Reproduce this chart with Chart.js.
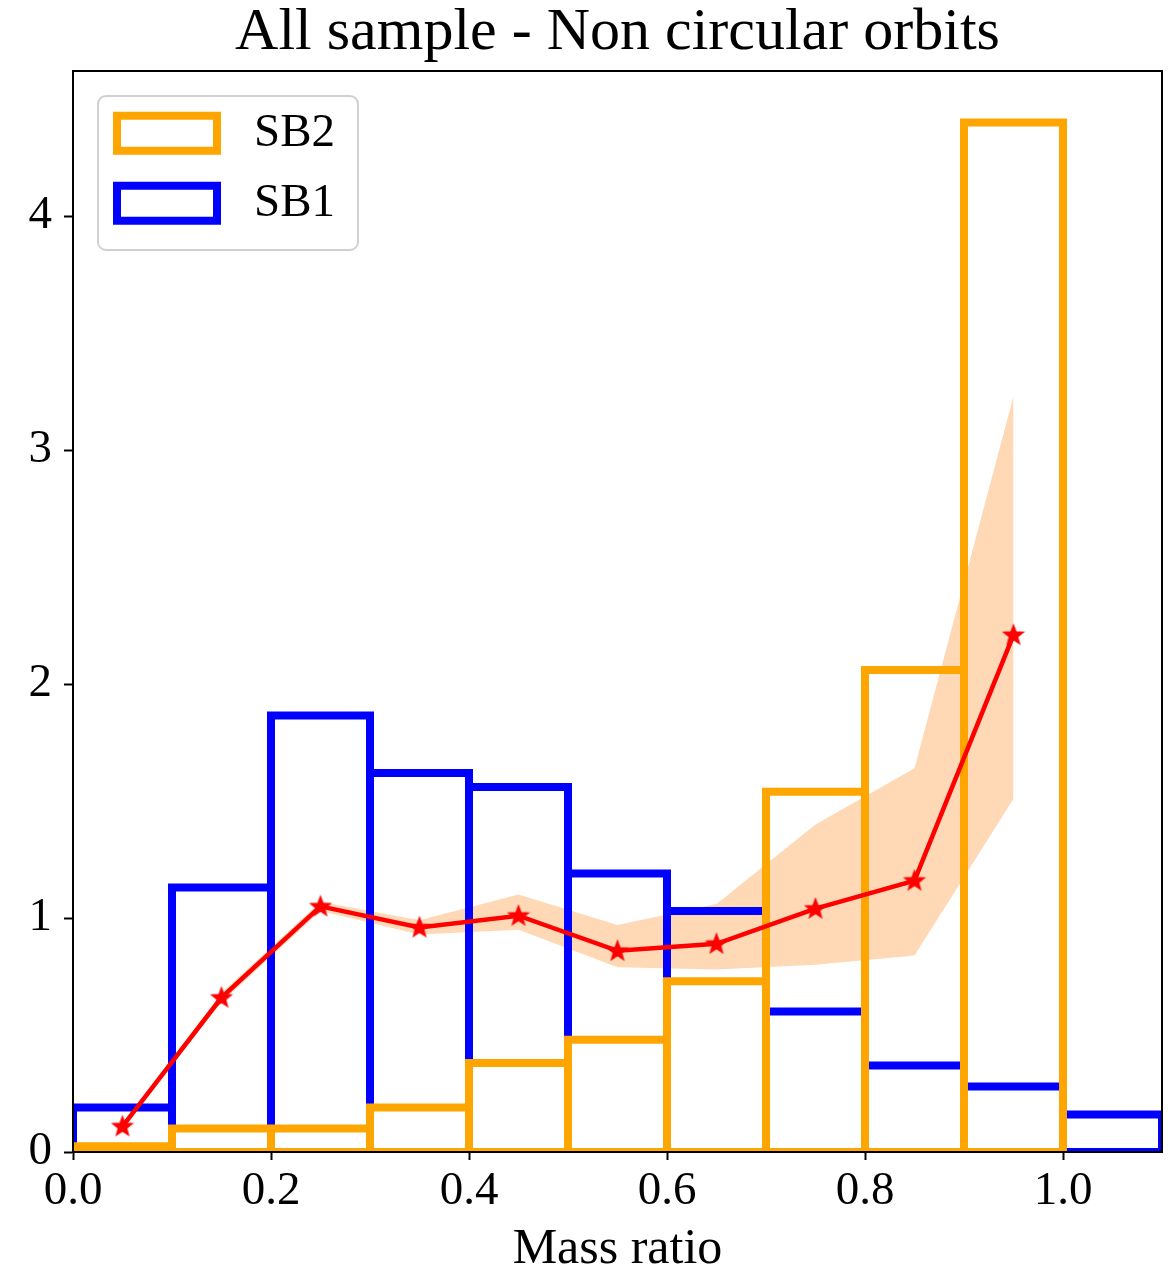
<!DOCTYPE html>
<html>
<head>
<meta charset="utf-8">
<title>All sample - Non circular orbits</title>
<script src="https://cdn.jsdelivr.net/npm/chart.js@4/dist/chart.umd.min.js"></script>
<style>
  html, body { margin: 0; padding: 0; background: #ffffff; }
  #wrap { width: 1175px; height: 1268px; }
</style>
</head>
<body>
<div id="wrap"><canvas id="chart" width="1175" height="1268"></canvas></div>
<script>
// Histogram bin edges (mass ratio)
const binEdges = [0.0, 0.1, 0.2, 0.3, 0.4, 0.5, 0.6, 0.7, 0.8, 0.9, 1.0, 1.1];
// Normalised counts per bin
const sb2Counts = [0.025, 0.10, 0.10, 0.19, 0.38, 0.48, 0.73, 1.54, 2.06, 4.40];
const sb1Counts = [0.19, 1.13, 1.865, 1.62, 1.56, 1.19, 1.03, 0.60, 0.37, 0.28, 0.16];
// Ratio curve at bin centres with its uncertainty band
const binCentres = [0.05, 0.15, 0.25, 0.35, 0.45, 0.55, 0.65, 0.75, 0.85, 0.95];
const ratioMean  = [0.11, 0.66, 1.05, 0.96, 1.01, 0.86, 0.89, 1.04, 1.16, 2.21];
const ratioLow   = [0.10, 0.64, 1.03, 0.93, 0.95, 0.79, 0.78, 0.80, 0.84, 1.51];
const ratioHigh  = [0.12, 0.68, 1.07, 0.99, 1.10, 0.97, 1.06, 1.40, 1.64, 3.23];
// Axis ticks
const xTicks = [0.0, 0.2, 0.4, 0.6, 0.8, 1.0];
const yTicks = [0, 1, 2, 3, 4];

const FONT = "'Liberation Serif', 'Times New Roman', serif";

// Outline of every bin as an unfilled rectangle; NaN breaks the path between bins
function binOutlines(counts) {
  const pts = [];
  counts.forEach((h, i) => {
    const x0 = binEdges[i], x1 = binEdges[i + 1];
    pts.push({x: x0, y: 0}, {x: x0, y: h}, {x: x1, y: h}, {x: x1, y: 0}, {x: x0, y: 0});
    pts.push({x: x1, y: NaN});
  });
  return pts;
}

function pairs(xs, ys) { return xs.map((x, i) => ({x: x, y: ys[i]})); }

// Filled five-pointed star used as the point marker
function starMarker(r, color) {
  const s = Math.ceil(r * 2 + 4);
  const c = document.createElement('canvas');
  c.width = s; c.height = s;
  const g = c.getContext('2d');
  g.fillStyle = color;
  g.strokeStyle = color;
  g.lineWidth = 1.5;
  g.lineJoin = 'miter';
  g.beginPath();
  for (let k = 0; k < 10; k++) {
    const rad = k % 2 === 0 ? r : r * 0.42;
    const a = -Math.PI / 2 + k * Math.PI / 5;
    const px = s / 2 + rad * Math.cos(a), py = s / 2 + 0.5 + rad * Math.sin(a);
    if (k === 0) g.moveTo(px, py); else g.lineTo(px, py);
  }
  g.closePath();
  g.fill();
  g.stroke();
  return c;
}

// Legend placement/frame and the axes box drawn above the data
const framePlugin = {
  id: 'axesFrame',
  afterLayout(chart) {
    const L = chart.legend, a = chart.chartArea;
    L.left = a.left + 21;
    L.top = a.top + 15.7;
    L.right = a.left + 262;
  },
  beforeDraw(chart) {
    const ctx = chart.ctx, a = chart.chartArea;
    const x = a.left + 25, y = a.top + 25, w = 260, h = 154, r = 8;
    ctx.save();
    ctx.beginPath();
    ctx.moveTo(x + r, y);
    ctx.arcTo(x + w, y, x + w, y + h, r);
    ctx.arcTo(x + w, y + h, x, y + h, r);
    ctx.arcTo(x, y + h, x, y, r);
    ctx.arcTo(x, y, x + w, y, r);
    ctx.closePath();
    ctx.fillStyle = 'rgba(255,255,255,0.8)';
    ctx.fill();
    ctx.lineWidth = 2;
    ctx.strokeStyle = '#d0d0d0';
    ctx.stroke();
    ctx.restore();
  },
  afterDatasetsDraw(chart) {
    const ctx = chart.ctx, a = chart.chartArea;
    ctx.save();
    ctx.lineWidth = 2;
    ctx.strokeStyle = '#000000';
    ctx.strokeRect(a.left, a.top, a.right - a.left, a.bottom - a.top);
    ctx.restore();
  }
};

const histStyle = {
  showLine: true,
  fill: false,
  borderWidth: 8,
  borderJoinStyle: 'miter',
  borderCapStyle: 'butt',
  backgroundColor: 'rgba(0,0,0,0)',
  pointRadius: 0,
  pointHoverRadius: 0,
  spanGaps: false,
  tension: 0,
  clip: 0
};

new Chart(document.getElementById('chart'), {
  type: 'line',
  data: {
    datasets: [
      Object.assign({label: 'SB2', data: binOutlines(sb2Counts), borderColor: '#ffa500', order: 1}, histStyle),
      Object.assign({label: 'SB1', data: binOutlines(sb1Counts), borderColor: '#0000ff', order: 2}, histStyle),
      {
        label: 'ratio',
        data: pairs(binCentres, ratioMean),
        borderColor: '#ff0000',
        backgroundColor: '#ff0000',
        borderWidth: 4.5,
        fill: false,
        tension: 0,
        pointStyle: starMarker(10, '#ff0000'),
        pointRadius: 8,
        pointHoverRadius: 8,
        order: 0,
        clip: 0
      },
      {
        label: 'low',
        data: pairs(binCentres, ratioLow),
        borderWidth: 0,
        borderColor: 'rgba(0,0,0,0)',
        pointRadius: 0,
        fill: false,
        tension: 0,
        order: 3
      },
      {
        label: 'high',
        data: pairs(binCentres, ratioHigh),
        borderWidth: 0,
        borderColor: 'rgba(0,0,0,0)',
        backgroundColor: 'rgba(255,127,14,0.3)',
        pointRadius: 0,
        fill: '-1',
        tension: 0,
        order: 3
      }
    ]
  },
  options: {
    responsive: false,
    maintainAspectRatio: false,
    animation: false,
    events: [],
    devicePixelRatio: 1,
    layout: { padding: { left: 0, right: 13, top: 0, bottom: 0 } },
    plugins: {
      tooltip: { enabled: false },
      title: {
        display: true,
        text: 'All sample - Non circular orbits',
        fullSize: false,
        color: '#000000',
        font: { family: FONT, size: 60, weight: 'normal', lineHeight: 1.0 },
        padding: { top: 3, bottom: 8 }
      },
      legend: {
        display: true,
        position: 'chartArea',
        align: 'start',
        labels: {
          filter: (item) => item.datasetIndex < 2,
          color: '#000000',
          font: { family: FONT, size: 47 },
          boxWidth: 100,
          boxHeight: 35,
          padding: 23,
          textAlign: 'right'
        }
      }
    },
    scales: {
      x: {
        type: 'linear',
        min: 0,
        max: 1.1,
        afterFit: (s) => { s.height = 116; },
        afterBuildTicks: (s) => { s.ticks = xTicks.map(v => ({value: v})); },
        ticks: {
          color: '#000000',
          font: { family: FONT, size: 47 },
          padding: 3,
          maxRotation: 0,
          autoSkip: false,
          callback: (v) => Number(v).toFixed(1)
        },
        grid: { drawOnChartArea: false, drawTicks: true, tickLength: 8, tickColor: '#000000', tickWidth: 2 },
        border: { display: true, color: '#000000', width: 2 },
        title: {
          display: true,
          text: 'Mass ratio',
          color: '#000000',
          font: { family: FONT, size: 50, lineHeight: 1.0 },
          padding: { top: 0, bottom: -7 }
        }
      },
      y: {
        type: 'linear',
        min: 0,
        max: 4.62,
        afterFit: (s) => { s.width = 73; },
        afterBuildTicks: (s) => { s.ticks = yTicks.map(v => ({value: v})); },
        ticks: {
          color: '#000000',
          font: { family: FONT, size: 47 },
          padding: 12,
          autoSkip: false,
          callback: (v) => String(v)
        },
        grid: { drawOnChartArea: false, drawTicks: true, tickLength: 9, tickColor: '#000000', tickWidth: 2 },
        border: { display: true, color: '#000000', width: 2 }
      }
    }
  },
  plugins: [framePlugin]
});
</script>
</body>
</html>
